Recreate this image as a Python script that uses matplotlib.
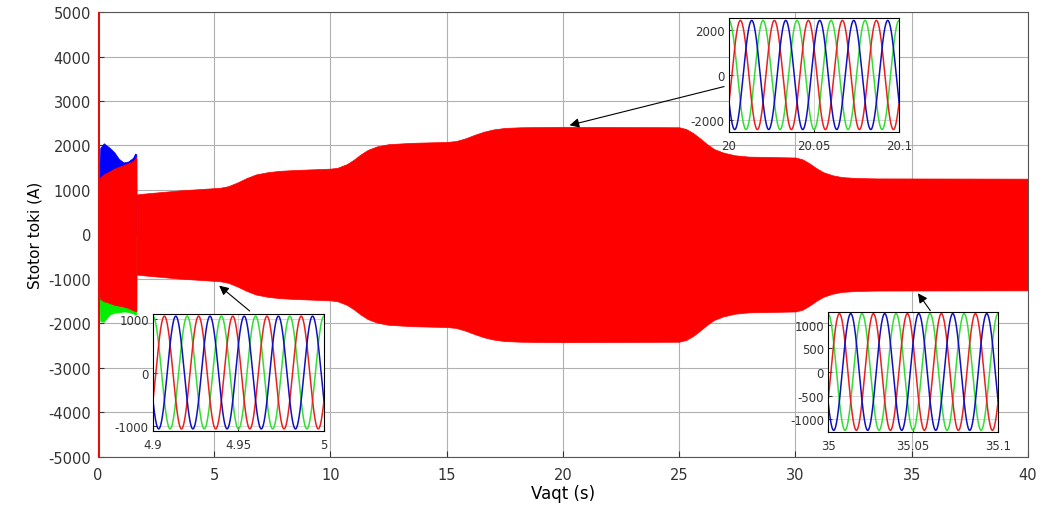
import numpy as np
import matplotlib
matplotlib.use('Agg')
import matplotlib.pyplot as plt

# Umumiy qobiq (amplituda) - rasmdan o'qilgan
t_env = [1.66, 2.0, 3.5, 5.25, 5.6, 6.0, 6.4, 6.8, 7.3, 7.8, 8.5, 10.0, 10.3, 10.7,
         11.0, 11.3, 11.6, 12.0, 12.5, 13.5, 15.0, 15.4, 15.8, 16.2, 16.6, 17.0,
         17.5, 18.2, 20.0, 25.0, 25.3, 25.6, 25.9, 26.2, 26.5, 26.9, 27.4, 28.0,
         30.0, 30.3, 30.6, 30.9, 31.2, 31.6, 32.0, 32.6, 33.5, 40.0]
amp_env = [900, 920, 990, 1050, 1085, 1170, 1270, 1350, 1400, 1430, 1450, 1480, 1500, 1580,
           1680, 1800, 1900, 1980, 2030, 2060, 2080, 2100, 2160, 2240, 2310, 2360,
           2395, 2410, 2420, 2410, 2370, 2280, 2160, 2030, 1920, 1840, 1780, 1750,
           1730, 1690, 1600, 1490, 1400, 1330, 1290, 1270, 1260, 1255]

# Ishga tushish oralig'i (0 - 1.65 s)
t_start = [0.02, 0.1, 0.25, 0.5, 0.7, 0.9, 1.1, 1.3, 1.5, 1.6, 1.65]
red_up_start = [1100, 1290, 1350, 1420, 1480, 1520, 1560, 1600, 1650, 1700, 1720]
red_lo_start = [-1100, -1450, -1500, -1540, -1580, -1600, -1620, -1650, -1700, -1720, -1720]
blue_up_start = [1100, 1950, 2050, 1950, 1850, 1700, 1620, 1640, 1720, 1820, 1800]
green_lo_start = [-1100, -1950, -1960, -1800, -1760, -1750, -1730, -1740, -1770, -1800, -1780]
spike_t = 0.0
spike_amp = 6000

# Kattalashtirilgan oynalar
f_net = 50.0
zoom_t0 = [4.9, 20.0, 35.0]
zoom_amp = [1060, 2450, 1240]
zoom_ylim = [1100, 2560, 1275]
zoom_yticks = [[-1000, 0, 1000], [-2000, 0, 2000], [-1000, -500, 0, 500, 1000]]
zoom_xlabels = [['4.9', '4.95', '5'], ['20', '20.05', '20.1'], ['35', '35.05', '35.1']]

plt.rcParams['font.family'] = ['DejaVu Sans']
plt.rcParams['axes.unicode_minus'] = False

fig = plt.figure(figsize=(10.4, 5.06), dpi=100)
ax = fig.add_axes([0.0942, 0.0949, 0.8942, 0.8794])

ax.fill_between(t_start, 0, blue_up_start, color='#0000ff', lw=0.5)
ax.fill_between(t_start, green_lo_start, 0, color='#00ee00', lw=0.5)
ax.fill_between(t_start, red_lo_start, red_up_start, color='#ff0000', lw=0.5)
ax.fill_between(t_env, [-a for a in amp_env], amp_env, color='#ff0000', lw=0.5)
ax.plot([1.65, 1.66], [red_up_start[-1], amp_env[0]], color='#ff0000', lw=1)
ax.plot([1.65, 1.66], [red_lo_start[-1], -amp_env[0]], color='#ff0000', lw=1)
ax.vlines(spike_t, -spike_amp, spike_amp, color='#e01010', lw=2.2, zorder=3)

ax.set_xlim(0, 40)
ax.set_ylim(-5000, 5000)
ax.set_xticks(np.arange(0, 41, 5))
ax.set_yticks(np.arange(-5000, 5001, 1000))
ax.grid(True, color='#b0b0b0', lw=0.8)
ax.set_axisbelow(True)
ax.tick_params(direction='in', length=4, labelsize=10.5, colors='#333333')
ax.tick_params(axis='x', pad=7)
ax.tick_params(axis='y', pad=5)
for s in ax.spines.values():
    s.set_color('#555555')
    s.set_linewidth(0.8)
ax.set_xlabel('Vaqt (s)', fontsize=12, labelpad=2)
ax.set_ylabel('Stotor toki (A)', fontsize=11, labelpad=4)

arrow = dict(arrowstyle='-|>', color='k', lw=0.8, mutation_scale=14)
ax.annotate('', xy=(5.12, -1110), xytext=(6.62, -1760), arrowprops=arrow)
ax.annotate('', xy=(20.17, 2440), xytext=(27.05, 3340), arrowprops=arrow)
ax.annotate('', xy=(35.2, -1270), xytext=(35.87, -1760), arrowprops=arrow)

inset_pos = [[0.1471, 0.1462, 0.1644, 0.2312],
             [0.7010, 0.7372, 0.1635, 0.2253],
             [0.7962, 0.1443, 0.1635, 0.2372]]
for k in range(3):
    ia = fig.add_axes(inset_pos[k])
    t = np.linspace(zoom_t0[k], zoom_t0[k] + 0.1, 2000)
    w = 2 * np.pi * f_net * t
    ia.plot(t, zoom_amp[k] * np.cos(w), color='#33dd33', lw=1.1)
    ia.plot(t, zoom_amp[k] * np.cos(w - 2 * np.pi / 3), color='#e82020', lw=1.1)
    ia.plot(t, zoom_amp[k] * np.cos(w - 4 * np.pi / 3), color='#1010c0', lw=1.1)
    ia.set_xlim(zoom_t0[k], zoom_t0[k] + 0.1)
    ia.set_ylim(-zoom_ylim[k], zoom_ylim[k])
    ia.set_xticks([zoom_t0[k], zoom_t0[k] + 0.05, zoom_t0[k] + 0.1])
    ia.set_xticklabels(zoom_xlabels[k])
    ia.set_yticks(zoom_yticks[k])
    ia.grid(True, color='#d0d0d0', lw=0.6)
    ia.set_axisbelow(True)
    ia.tick_params(direction='in', length=3, labelsize=8.5, colors='#333333', pad=3)
    ia.tick_params(axis='x', pad=5)
    for s in ia.spines.values():
        s.set_color('k')
        s.set_linewidth(0.8)

fig.savefig('out.png', dpi=100)
